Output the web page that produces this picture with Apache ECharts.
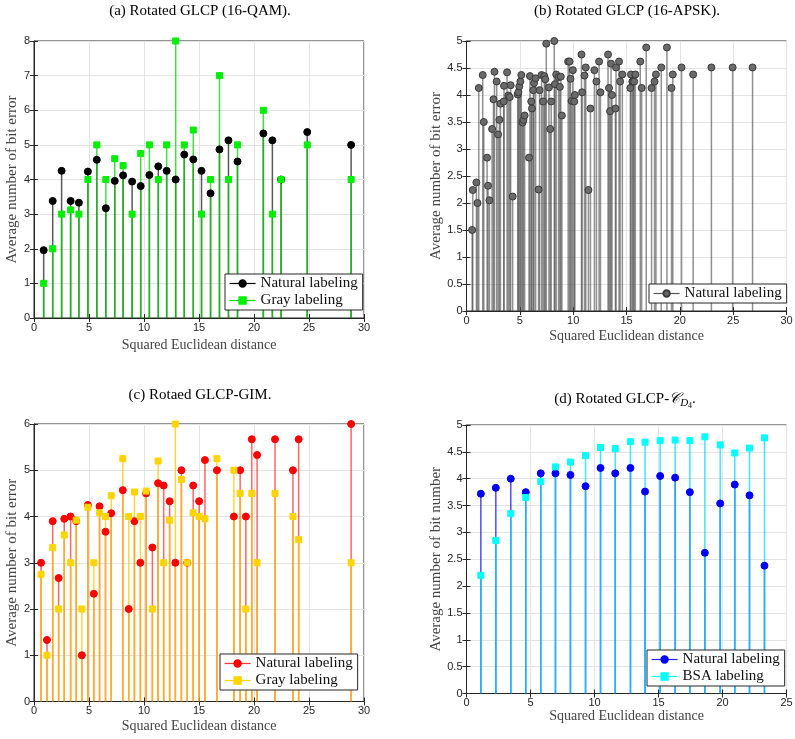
<!DOCTYPE html>
<html>
<head>
<meta charset="utf-8">
<script src="https://cdn.jsdelivr.net/npm/echarts@6/dist/echarts.min.js"></script>
<style>
html, body { margin: 0; padding: 0; background: #fff; }
#chart { width: 795px; height: 739px; }
</style>
</head>
<body>
<div id="chart"></div>
<script>
// (a) 16-QAM
var aX = [0.88, 1.70, 2.51, 3.33, 4.08, 4.90, 5.71, 6.53, 7.34, 8.10, 8.92, 9.70, 10.49, 11.30, 12.06, 12.88, 13.66, 14.48, 15.23, 16.05, 16.86, 17.68, 18.50, 20.85, 21.67, 22.46, 24.84, 28.83];
var aNat = [1.96, 3.38, 4.25, 3.38, 3.33, 4.23, 4.57, 3.17, 3.96, 4.12, 3.94, 3.81, 4.13, 4.38, 4.25, 4.0, 4.72, 4.58, 4.25, 3.6, 4.87, 5.13, 4.52, 5.33, 5.13, 4.0, 5.37, 5.0];
var aGray = [1, 2, 3, 3.12, 3, 4, 5, 4, 4.6, 4.4, 3, 4.75, 5, 4, 5, 8, 5, 5.43, 3, 4, 7, 4, 5, 6, 3, 4, 5, 4];

// (b) 16-APSK
var bX = [0.53, 0.59, 0.93, 1.03, 1.15, 1.52, 1.62, 1.93, 2.02, 2.15, 2.40, 2.53, 2.62, 2.83, 2.96, 3.08, 3.18, 3.49, 3.52, 3.80,
  3.92, 4.05, 4.14, 4.33, 4.80, 4.86, 4.95, 5.05, 5.14, 5.26, 5.33, 5.45, 5.86, 5.95, 6.07, 6.14, 6.26, 6.33, 6.48, 6.76,
  6.85, 7.04, 7.17, 7.29, 7.38, 7.48, 7.73, 7.85, 7.94, 8.23, 8.29, 8.41, 8.63, 8.75, 8.84, 8.94, 9.53, 9.66, 9.75, 9.85,
  9.97, 10.10, 10.16, 10.78, 10.84, 11.06, 11.18, 11.43, 11.62, 11.99, 12.18, 12.43, 12.56, 13.27, 13.36, 13.46, 13.55, 13.64, 13.96, 14.02,
  14.30, 14.40, 14.61, 15.36, 15.42, 15.55, 15.64, 15.72, 15.83, 16.29, 16.42, 16.85, 17.35, 17.63, 17.76, 18.26, 18.79, 19.22, 19.34, 20.16,
  21.25, 22.96, 24.95, 26.82];
var bNat = [1.50, 2.24, 2.38, 2.00, 4.13, 4.37, 3.50, 2.84, 2.32, 2.05, 3.37, 3.92, 4.43, 4.25, 3.27, 3.54, 3.84, 3.88, 4.17, 4.42,
  3.99, 3.96, 4.18, 2.12, 4.01, 4.05, 4.16, 4.25, 4.37, 3.49, 3.54, 3.62, 2.84, 4.35, 3.88, 3.75, 4.09, 4.22, 4.31, 2.25,
  4.09, 4.37, 3.88, 4.35, 4.29, 4.95, 4.14, 3.37, 3.88, 5.00, 4.20, 4.38, 4.33, 4.15, 4.34, 3.62, 4.62, 4.62, 4.30, 3.89,
  4.46, 3.88, 4.00, 4.75, 4.05, 4.36, 4.51, 2.24, 3.75, 4.46, 4.25, 4.62, 4.05, 4.75, 4.13, 3.70, 4.58, 4.00, 3.75, 4.51,
  4.62, 4.25, 4.38, 4.13, 4.38, 4.25, 4.25, 4.25, 4.38, 4.62, 4.13, 4.88, 4.13, 4.25, 4.38, 4.51, 4.88, 4.13, 4.38, 4.51,
  4.38, 4.51, 4.51, 4.51];

// (c) GIM
var cX = [0.64, 1.18, 1.70, 2.24, 2.75, 3.33, 3.84, 4.35, 4.90, 5.44, 5.96, 6.50, 7.02, 8.07, 8.61, 9.13, 9.67, 10.19, 10.76, 11.28,
  11.79, 12.33, 12.85, 13.40, 13.93, 14.47, 15.01, 15.54, 16.63, 18.17, 18.74, 19.26, 19.80, 20.28, 21.91, 23.54, 24.06, 28.83];
var cNat = [3, 1.33, 3.9, 2.67, 3.95, 4, 3.9, 1, 4.25, 2.33, 4.22, 3.67, 4.07, 4.57, 2, 3.9, 3, 4.5, 3.33, 4.72,
  4.67, 4.33, 3, 5, 3, 4.67, 4.33, 5.22, 5, 4, 5, 4, 5.67, 5.33, 5.67, 5, 5.67, 6];
var cGray = [2.75, 1, 3.33, 2, 3.6, 3, 3.92, 2, 4.2, 3, 4.08, 4, 4.45, 5.25, 4, 4.53, 4, 4.55, 2, 5.2,
  3, 3.92, 6, 4.8, 3, 4.08, 4, 3.95, 5.25, 5, 4.5, 2, 4.5, 3, 4.5, 4, 3.5, 3];

// (d) C_D4
var dX = [1.12, 2.29, 3.46, 4.63, 5.80, 6.95, 8.12, 9.30, 10.47, 11.62, 12.81, 13.95, 15.13, 16.30, 17.45, 18.62, 19.82, 20.96, 22.11, 23.28];
var dNat = [3.72, 3.83, 4.0, 3.75, 4.1, 4.1, 4.07, 3.86, 4.2, 4.1, 4.2, 3.76, 4.05, 4.02, 3.75, 2.62, 3.54, 3.89, 3.69, 2.38];
var dBsa = [2.2, 2.85, 3.35, 3.65, 3.95, 4.22, 4.31, 4.43, 4.58, 4.56, 4.69, 4.68, 4.71, 4.72, 4.71, 4.78, 4.63, 4.48, 4.57, 4.76];

var legendNames = {
    aNat: 'Natural labeling', aGray: 'Gray labeling',
    bNat: 'Natural labeling',
    cNat: 'Natural labeling', cGray: 'Gray labeling',
    dNat: 'Natural labeling', dBsa: 'BSA labeling'
};

var serif = '"Liberation Serif", "Times New Roman", serif';
var sans = '"Liberation Sans", Arial, sans-serif';
var dark = '#262626';

var chart = echarts.init(document.getElementById('chart'));

function pairs(xs, ys) {
    var out = [];
    for (var i = 0; i < xs.length; i++) {
        out.push([xs[i], ys[i]]);
    }
    return out;
}

// vertical stem from 0 up to the value
function stems(id, gi, xs, ys, color, z) {
    return {
        type: 'custom', name: id + '_stem', xAxisIndex: gi, yAxisIndex: gi, z: z,
        silent: true,
        data: pairs(xs, ys),
        renderItem: function (params, api) {
            var p0 = api.coord([api.value(0), 0]);
            var p1 = api.coord([api.value(0), api.value(1)]);
            return {
                type: 'line',
                shape: { x1: p0[0], y1: p0[1], x2: p1[0], y2: p1[1] },
                style: { stroke: color, lineWidth: 1.5 }
            };
        }
    };
}

// marker heads, line hidden (legend still shows line + symbol)
function heads(id, gi, xs, ys, color, lineColor, symbol, size, border) {
    return {
        type: 'line', name: id, xAxisIndex: gi, yAxisIndex: gi, z: 5,
        data: pairs(xs, ys),
        symbol: symbol, symbolSize: size, showSymbol: true, showAllSymbol: true,
        itemStyle: { color: color, borderColor: border || color, borderWidth: 1, opacity: 1 },
        lineStyle: { color: lineColor, width: 1.2, opacity: 0 },
        emphasis: { disabled: true },
        silent: true
    };
}

var grids = [
    { left: 34, top: 41, width: 330, height: 277 },
    { left: 466.5, top: 41, width: 320, height: 270 },
    { left: 34, top: 424, width: 330, height: 277.5 },
    { left: 466.5, top: 425, width: 320, height: 268.5 }
];
grids.forEach(function (g) {
    g.show = true;
    g.borderColor = dark;
    g.borderWidth = 1;
    g.outerBoundsMode = 'none';
});

var xMax = [30, 30, 30, 25];
var yMax = [8, 5, 6, 5];
var yStep = [1, 0.5, 1, 0.5];
var xNameGap = [20, 18, 18, 16];
var yNameGap = [12, 19, 12, 19];
var yNames = ['Average number of bit error', 'Average number of bit error', 'Average number of bit error', 'Average number of bit number'];

var xAxes = [], yAxes = [];
for (var i = 0; i < 4; i++) {
    xAxes.push({
        type: 'value', gridIndex: i, min: 0, max: xMax[i], interval: 5,
        name: 'Squared Euclidean distance', nameLocation: 'middle', nameGap: xNameGap[i],
        nameTextStyle: { fontFamily: serif, fontSize: 14, color: '#444' },
        axisLine: { show: true, lineStyle: { color: dark } },
        axisTick: { show: true, inside: true, length: 4, lineStyle: { color: dark } },
        axisLabel: { fontFamily: sans, fontSize: 11, color: dark, margin: 4 },
        splitLine: { show: true, lineStyle: { color: '#e4e4e4', width: 1 } }
    });
    yAxes.push({
        type: 'value', gridIndex: i, min: 0, max: yMax[i], interval: yStep[i],
        name: yNames[i], nameLocation: 'middle', nameGap: yNameGap[i],
        nameTextStyle: { fontFamily: serif, fontSize: 15, color: '#444' },
        axisLine: { show: true, lineStyle: { color: dark } },
        axisTick: { show: true, inside: true, length: 4, lineStyle: { color: dark } },
        axisLabel: { fontFamily: sans, fontSize: 11, color: dark, margin: 4 },
        splitLine: { show: true, lineStyle: { color: '#e4e4e4', width: 1 } }
    });
}
// mirrored ticks on top and right
for (var j = 0; j < 4; j++) {
    xAxes.push({
        type: 'value', gridIndex: j, position: 'top', min: 0, max: xMax[j], interval: 5,
        axisLine: { show: false }, axisLabel: { show: false }, splitLine: { show: false },
        axisTick: { show: true, inside: true, length: 4, lineStyle: { color: dark } }
    });
    yAxes.push({
        type: 'value', gridIndex: j, position: 'right', min: 0, max: yMax[j], interval: yStep[j],
        axisLine: { show: false }, axisLabel: { show: false }, splitLine: { show: false },
        axisTick: { show: true, inside: true, length: 4, lineStyle: { color: dark } }
    });
}

function legendBox(names, left, top) {
    return {
        data: names, left: left, top: top, orient: 'vertical',
        backgroundColor: '#fff', borderColor: dark, borderWidth: 1,
        padding: [2, 5, 2, 4], itemGap: 2, itemWidth: 26, itemHeight: 8,
        selectedMode: false,
        lineStyle: { opacity: 1, width: 1.2 },
        textStyle: { fontFamily: serif, fontSize: 15, color: '#111' },
        formatter: function (n) { return legendNames[n]; }
    };
}

var titleStyle = { fontFamily: serif, fontSize: 15, fontWeight: 'normal', color: '#000' };

var option = {
    animation: false,
    backgroundColor: '#fff',
    title: [
        { text: '(a) Rotated GLCP (16-QAM).', left: 200, top: 4, textAlign: 'center', padding: 0, textStyle: titleStyle },
        { text: '(b) Rotated GLCP (16-APSK).', left: 627, top: 4, textAlign: 'center', padding: 0, textStyle: titleStyle },
        { text: '(c) Rotaed GLCP-GIM.', left: 200, top: 388, textAlign: 'center', padding: 0, textStyle: titleStyle },
        {
            text: '(d) Rotated GLCP-{c|𝒞}{s|D}{t|4}.', left: 625, top: 388, textAlign: 'center', padding: 0,
            textStyle: {
                fontFamily: serif, fontSize: 15, fontWeight: 'normal', color: '#000',
                rich: {
                    c: { fontFamily: serif, fontSize: 15, fontWeight: 'normal', fontStyle: 'italic', color: '#000' },
                    s: { fontFamily: serif, fontSize: 11, fontWeight: 'normal', fontStyle: 'italic', color: '#000', padding: [9, 0, 0, 0] },
                    t: { fontFamily: serif, fontSize: 8, fontWeight: 'normal', color: '#000', padding: [14, 0, 0, 0] }
                }
            }
        }
    ],
    legend: [
        legendBox(['aNat', 'aGray'], 225, 274),
        legendBox(['bNat'], 649, 284),
        legendBox(['cNat', 'cGray'], 220, 654),
        legendBox(['dNat', 'dBsa'], 647, 650)
    ],
    grid: grids,
    xAxis: xAxes,
    yAxis: yAxes,
    series: [
        stems('aNat', 0, aX, aNat, 'rgba(0,0,0,0.65)', 2),
        stems('aGray', 0, aX, aGray, 'rgba(0,215,0,0.75)', 3),
        heads('aNat', 0, aX, aNat, '#000', '#000', 'circle', 7),
        heads('aGray', 0, aX, aGray, '#00ee00', '#00dd00', 'rect', 6),

        stems('bNat', 1, bX, bNat, 'rgba(70,70,70,0.6)', 2),
        heads('bNat', 1, bX, bNat, '#6a6a6a', '#555', 'circle', 7, '#3a3a3a'),

        stems('cNat', 2, cX, cNat, 'rgba(255,0,0,0.6)', 2),
        stems('cGray', 2, cX, cGray, 'rgba(255,200,0,0.75)', 3),
        heads('cNat', 2, cX, cNat, '#ff0000', '#ff3333', 'circle', 7),
        heads('cGray', 2, cX, cGray, '#ffd400', '#ffd400', 'rect', 6),

        stems('dNat', 3, dX, dNat, 'rgba(0,0,255,0.7)', 2),
        stems('dBsa', 3, dX, dBsa, 'rgba(0,220,255,0.75)', 3),
        heads('dNat', 3, dX, dNat, '#0000ff', '#2222ff', 'circle', 7),
        heads('dBsa', 3, dX, dBsa, '#00ffff', '#00ffff', 'rect', 6)
    ]
};

chart.setOption(option);
</script>
</body>
</html>
